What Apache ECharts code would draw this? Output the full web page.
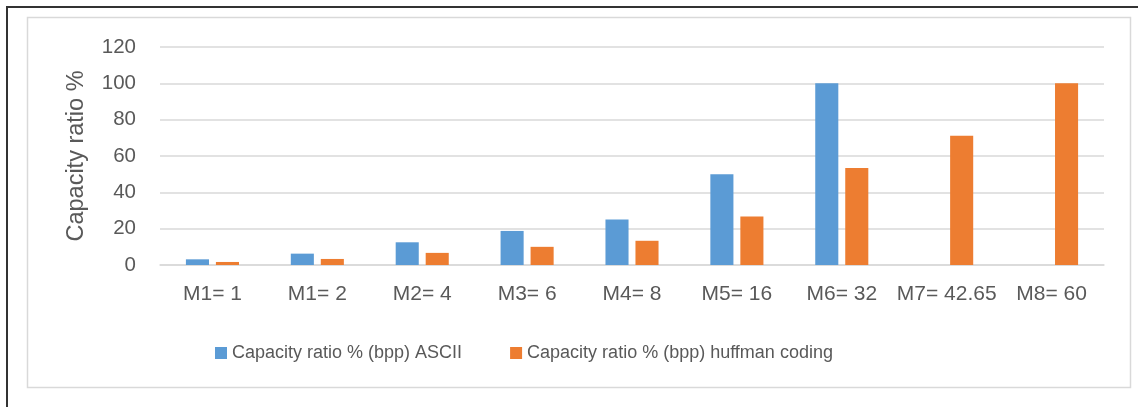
<!DOCTYPE html>
<html lang="en" style="height: 100%">
<head>
  <meta charset="utf-8">
</head>
<body style="height: 100%; margin: 0; background: #fff">
  <div id="container" style="width: 1138px; height: 407px"></div>

  <script type="text/javascript" src="https://fastly.jsdelivr.net/npm/echarts@6/dist/echarts.min.js"></script>
  <script type="text/javascript">
    // categories and values
    var categories = ['M1= 1', 'M1= 2', 'M2= 4', 'M3= 6', 'M4= 8', 'M5= 16', 'M6= 32', 'M7= 42.65', 'M8= 60'];
    var asciiValues = [3.125, 6.25, 12.5, 18.75, 25, 50, 100, '-', '-'];
    var huffmanValues = [1.67, 3.33, 6.67, 10, 13.33, 26.67, 53.33, 71.08, 100];
    var seriesNames = ['Capacity ratio % (bpp) ASCII', 'Capacity ratio % (bpp) huffman coding'];

    var textColor = '#595959';
    var font = 'Liberation Sans';

    var dom = document.getElementById('container');
    var myChart = echarts.init(dom, null, { renderer: 'canvas' });

    var option = {
      animation: false,
      color: ['#5B9BD5', '#ED7D31'],
      textStyle: { fontFamily: font, color: textColor },
      graphic: [
        {
          type: 'polyline',
          shape: { points: [[7, 407], [7, 7], [1138, 7]] },
          style: { stroke: '#333', lineWidth: 2, fill: null }
        },
        {
          type: 'rect',
          shape: { x: 27.5, y: 17.5, width: 1103, height: 370 },
          style: { stroke: '#d9d9d9', lineWidth: 1.5, fill: null }
        }
      ],
      legend: {
        left: 210,
        top: 339,
        itemWidth: 12,
        itemHeight: 12,
        itemGap: 48,
        icon: 'rect',
        textStyle: { fontSize: 18, color: textColor, fontFamily: font },
        data: seriesNames
      },
      grid: {
        left: 160,
        right: 34,
        top: 47,
        bottom: 142
      },
      xAxis: {
        type: 'category',
        data: categories,
        axisTick: { show: false },
        axisLine: { lineStyle: { color: '#d9d9d9', width: 1.5 } },
        axisLabel: { fontSize: 21, color: textColor, margin: 19, interval: 0, fontFamily: font }
      },
      yAxis: {
        type: 'value',
        min: 0,
        max: 120,
        interval: 20,
        name: 'Capacity ratio %',
        nameLocation: 'middle',
        nameGap: 71,
        nameTextStyle: { fontSize: 23.5, color: textColor, fontFamily: font },
        axisLabel: { fontSize: 20.5, color: textColor, margin: 24, fontFamily: font },
        splitLine: { lineStyle: { color: '#d9d9d9', width: 1.5 } }
      },
      series: [
        {
          name: seriesNames[0],
          type: 'bar',
          data: asciiValues,
          barWidth: '22%',
          barGap: '30%'
        },
        {
          name: seriesNames[1],
          type: 'bar',
          data: huffmanValues,
          barWidth: '22%',
          barGap: '30%'
        }
      ]
    };

    myChart.setOption(option);
    window.addEventListener('resize', myChart.resize);
  </script>
</body>
</html>
